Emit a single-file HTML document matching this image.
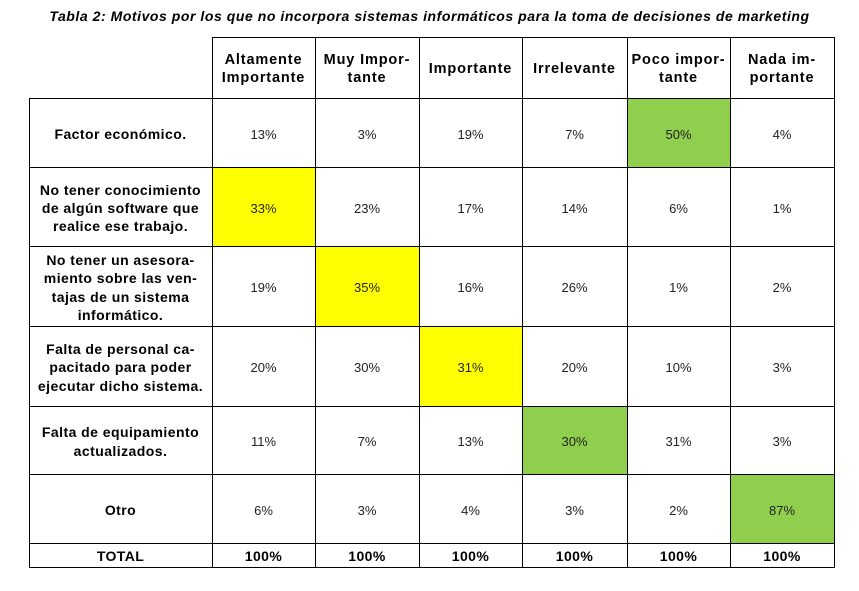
<!DOCTYPE html>
<html>
<head>
<meta charset="utf-8">
<style>
html,body{margin:0;padding:0;background:#fff;}
body{width:859px;height:591px;position:relative;overflow:hidden;font-family:"Liberation Sans",sans-serif;color:#000;}
.title{position:absolute;left:0;width:859px;top:8px;text-align:center;font-weight:bold;font-style:italic;font-size:14px;letter-spacing:0.55px;white-space:nowrap;}
.h{position:absolute;background:#000;height:1.6px;}
.v{position:absolute;background:#000;width:1.6px;}
.c{position:absolute;display:flex;align-items:center;justify-content:center;text-align:center;box-sizing:border-box;padding-top:3px;white-space:nowrap;}
.hd{font-weight:bold;font-size:14.5px;line-height:18px;letter-spacing:0.85px;}
.lb{font-weight:bold;font-size:14px;line-height:18.3px;letter-spacing:0.45px;}
.n{font-size:13px;color:#222;}
.t{font-weight:bold;font-size:14px;letter-spacing:0.4px;padding-top:1px;}
.g{background:#90cf4e;}
.y{background:#ffff00;}
</style>
</head>
<body>
<div class="title">Tabla 2: Motivos por los que no incorpora sistemas informáticos para la toma de decisiones de marketing</div>

<div class="c g" style="left:627px;top:98px;width:103px;height:69px;"></div>
<div class="c y" style="left:212px;top:167px;width:103px;height:79px;"></div>
<div class="c y" style="left:315px;top:246px;width:104px;height:80px;"></div>
<div class="c y" style="left:419px;top:326px;width:103px;height:80px;"></div>
<div class="c g" style="left:522px;top:406px;width:105px;height:68px;"></div>
<div class="c g" style="left:730px;top:474px;width:104px;height:69px;"></div>

<div class="h" style="left:212px;width:623px;top:36.5px;"></div>
<div class="h" style="left:29px;width:806px;top:97.5px;"></div>
<div class="h" style="left:29px;width:806px;top:166.5px;"></div>
<div class="h" style="left:29px;width:806px;top:245.5px;"></div>
<div class="h" style="left:29px;width:806px;top:325.5px;"></div>
<div class="h" style="left:29px;width:806px;top:405.5px;"></div>
<div class="h" style="left:29px;width:806px;top:473.5px;"></div>
<div class="h" style="left:29px;width:806px;top:542.5px;"></div>
<div class="h" style="left:29px;width:806px;top:566.5px;"></div>

<div class="v" style="left:28.5px;top:97.5px;height:470.6px;"></div>
<div class="v" style="left:211.5px;top:36.5px;height:531.6px;"></div>
<div class="v" style="left:314.5px;top:36.5px;height:531.6px;"></div>
<div class="v" style="left:418.5px;top:36.5px;height:531.6px;"></div>
<div class="v" style="left:521.5px;top:36.5px;height:531.6px;"></div>
<div class="v" style="left:626.5px;top:36.5px;height:531.6px;"></div>
<div class="v" style="left:729.5px;top:36.5px;height:531.6px;"></div>
<div class="v" style="left:833.5px;top:36.5px;height:531.6px;"></div>

<div class="c hd" style="left:212px;top:37px;width:103px;height:61px;">Altamente<br>Importante</div>
<div class="c hd" style="left:315px;top:37px;width:104px;height:61px;">Muy Impor-<br>tante</div>
<div class="c hd" style="left:419px;top:37px;width:103px;height:61px;">Importante</div>
<div class="c hd" style="left:522px;top:37px;width:105px;height:61px;">Irrelevante</div>
<div class="c hd" style="left:627px;top:37px;width:103px;height:61px;">Poco impor-<br>tante</div>
<div class="c hd" style="left:730px;top:37px;width:104px;height:61px;">Nada im-<br>portante</div>

<div class="c lb" style="left:29px;top:98px;width:183px;height:69px;">Factor económico.</div>
<div class="c lb" style="left:29px;top:167px;width:183px;height:79px;">No tener conocimiento<br>de algún software que<br>realice ese trabajo.</div>
<div class="c lb" style="left:29px;top:246px;width:183px;height:80px;">No tener un asesora-<br>miento sobre las ven-<br>tajas de un sistema<br>informático.</div>
<div class="c lb" style="left:29px;top:326px;width:183px;height:80px;">Falta de personal ca-<br>pacitado para poder<br>ejecutar dicho sistema.</div>
<div class="c lb" style="left:29px;top:406px;width:183px;height:68px;">Falta de equipamiento<br>actualizados.</div>
<div class="c lb" style="left:29px;top:474px;width:183px;height:69px;">Otro</div>
<div class="c t" style="left:29px;top:543px;width:183px;height:24px;">TOTAL</div>

<div class="c n" style="left:212px;top:98px;width:103px;height:69px;">13%</div>
<div class="c n" style="left:315px;top:98px;width:104px;height:69px;">3%</div>
<div class="c n" style="left:419px;top:98px;width:103px;height:69px;">19%</div>
<div class="c n" style="left:522px;top:98px;width:105px;height:69px;">7%</div>
<div class="c n" style="left:627px;top:98px;width:103px;height:69px;">50%</div>
<div class="c n" style="left:730px;top:98px;width:104px;height:69px;">4%</div>

<div class="c n" style="left:212px;top:167px;width:103px;height:79px;">33%</div>
<div class="c n" style="left:315px;top:167px;width:104px;height:79px;">23%</div>
<div class="c n" style="left:419px;top:167px;width:103px;height:79px;">17%</div>
<div class="c n" style="left:522px;top:167px;width:105px;height:79px;">14%</div>
<div class="c n" style="left:627px;top:167px;width:103px;height:79px;">6%</div>
<div class="c n" style="left:730px;top:167px;width:104px;height:79px;">1%</div>

<div class="c n" style="left:212px;top:246px;width:103px;height:80px;">19%</div>
<div class="c n" style="left:315px;top:246px;width:104px;height:80px;">35%</div>
<div class="c n" style="left:419px;top:246px;width:103px;height:80px;">16%</div>
<div class="c n" style="left:522px;top:246px;width:105px;height:80px;">26%</div>
<div class="c n" style="left:627px;top:246px;width:103px;height:80px;">1%</div>
<div class="c n" style="left:730px;top:246px;width:104px;height:80px;">2%</div>

<div class="c n" style="left:212px;top:326px;width:103px;height:80px;">20%</div>
<div class="c n" style="left:315px;top:326px;width:104px;height:80px;">30%</div>
<div class="c n" style="left:419px;top:326px;width:103px;height:80px;">31%</div>
<div class="c n" style="left:522px;top:326px;width:105px;height:80px;">20%</div>
<div class="c n" style="left:627px;top:326px;width:103px;height:80px;">10%</div>
<div class="c n" style="left:730px;top:326px;width:104px;height:80px;">3%</div>

<div class="c n" style="left:212px;top:406px;width:103px;height:68px;">11%</div>
<div class="c n" style="left:315px;top:406px;width:104px;height:68px;">7%</div>
<div class="c n" style="left:419px;top:406px;width:103px;height:68px;">13%</div>
<div class="c n" style="left:522px;top:406px;width:105px;height:68px;">30%</div>
<div class="c n" style="left:627px;top:406px;width:103px;height:68px;">31%</div>
<div class="c n" style="left:730px;top:406px;width:104px;height:68px;">3%</div>

<div class="c n" style="left:212px;top:474px;width:103px;height:69px;">6%</div>
<div class="c n" style="left:315px;top:474px;width:104px;height:69px;">3%</div>
<div class="c n" style="left:419px;top:474px;width:103px;height:69px;">4%</div>
<div class="c n" style="left:522px;top:474px;width:105px;height:69px;">3%</div>
<div class="c n" style="left:627px;top:474px;width:103px;height:69px;">2%</div>
<div class="c n" style="left:730px;top:474px;width:104px;height:69px;">87%</div>

<div class="c t" style="left:212px;top:543px;width:103px;height:24px;">100%</div>
<div class="c t" style="left:315px;top:543px;width:104px;height:24px;">100%</div>
<div class="c t" style="left:419px;top:543px;width:103px;height:24px;">100%</div>
<div class="c t" style="left:522px;top:543px;width:105px;height:24px;">100%</div>
<div class="c t" style="left:627px;top:543px;width:103px;height:24px;">100%</div>
<div class="c t" style="left:730px;top:543px;width:104px;height:24px;">100%</div>
</body>
</html>
